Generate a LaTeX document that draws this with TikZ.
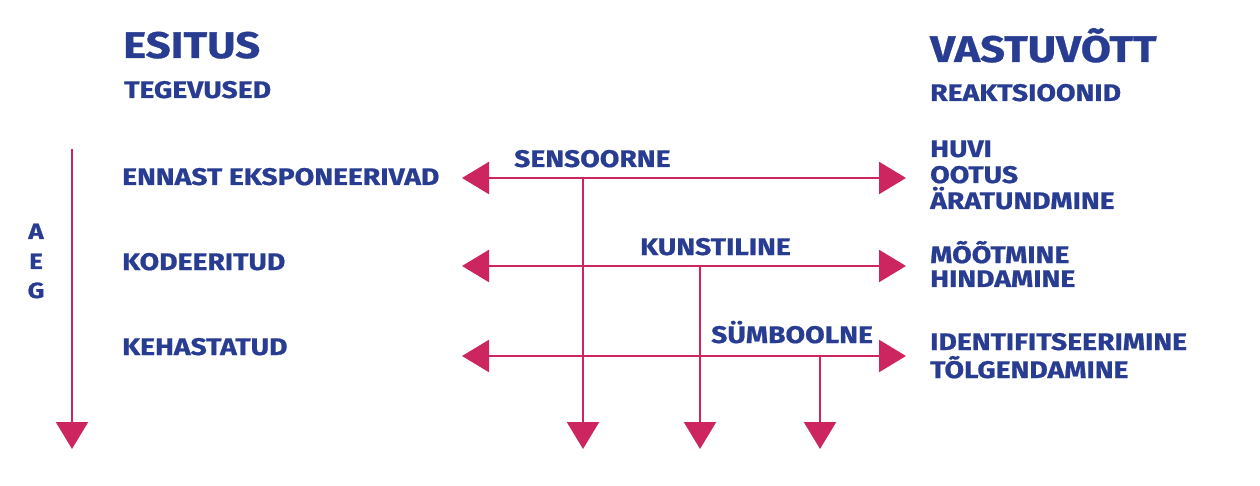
\documentclass[tikz,border=0pt]{standalone}
\usepackage{fontspec}
\setmainfont{Fira Sans}[BoldFeatures={FakeStretch=1.18,FakeBold=0.8}]
\usetikzlibrary{arrows.meta}
\definecolor{navy}{RGB}{40,60,145}
\definecolor{rose}{RGB}{204,37,96}
\tikzset{
  txt/.style={anchor=base west, inner sep=0pt, text=navy, font=\bfseries\fontsize{24}{26}\selectfont},
  big/.style={txt, font=\bfseries\fontsize{37}{40}\selectfont},
  aeg/.style={anchor=base, inner sep=0pt, text=navy, font=\bfseries\fontsize{22}{24}\selectfont},
  conn/.style={draw=rose, line width=2.3pt},
  both/.style={conn, {Triangle[length=27pt,width=32pt]}-{Triangle[length=27pt,width=32pt]}},
  down/.style={conn, -{Triangle[length=27pt,width=32pt]}}
}
\begin{document}
\begin{tikzpicture}[x=1pt,y=-1pt]
\useasboundingbox (0,0) rectangle (1260,486);
% headers
\node[big] (esitus) at (123,58) {ESITUS};
\node[txt] (teg) at (124,98) {TEGEVUSED};
\node[big] (vast) at (930,62) {VASTUVÕTT};
\node[txt] (reak) at (930,101) {REAKTSIOONID};
% left labels
\node[txt] (ennast) at (122,185) {ENNAST EKSPONEERIVAD};
\node[txt] (kod) at (122,270) {KODEERITUD};
\node[txt] (keh) at (122,355) {KEHASTATUD};
% AEG
\node[aeg] (a) at (36,239) {A};
\node[aeg] (e) at (36,269) {E};
\node[aeg] (g) at (36,298) {G};
% right labels
\node[txt] (huvi) at (930,157) {HUVI};
\node[txt] (ootus) at (930,183) {OOTUS};
\node[txt] (arat) at (930,209) {ÄRATUNDMINE};
\node[txt] (mootm) at (930,263) {MÕÕTMINE};
\node[txt] (hind) at (930,287) {HINDAMINE};
\node[txt] (ident) at (930,350) {IDENTIFITSEERIMINE};
\node[txt] (tolg) at (930,378) {TÕLGENDAMINE};
% arrow labels
\node[txt] (sens) at (514,167) {SENSOORNE};
\node[txt] (kuns) at (640,255) {KUNSTILINE};
\node[txt] (symb) at (711,343) {SÜMBOOLNE};
% coordinates
\coordinate (l1) at (462,178); \coordinate (r1) at (906,178);
\coordinate (l2) at (462,266); \coordinate (r2) at (906,266);
\coordinate (l3) at (462,356); \coordinate (r3) at (906,356);
\coordinate (s1) at (583,178); \coordinate (e1) at (583,449);
\coordinate (s2) at (700,266); \coordinate (e2) at (700,449);
\coordinate (s3) at (820,356); \coordinate (e3) at (820,449);
\coordinate (t0) at (72,149); \coordinate (t1) at (72,449);
% connectors
\draw[down] (t0) -- (t1);
\draw[down] (s1) -- (e1);
\draw[down] (s2) -- (e2);
\draw[down] (s3) -- (e3);
\draw[both] (l1) -- (r1);
\draw[both] (l2) -- (r2);
\draw[both] (l3) -- (r3);
\end{tikzpicture}
\end{document}
